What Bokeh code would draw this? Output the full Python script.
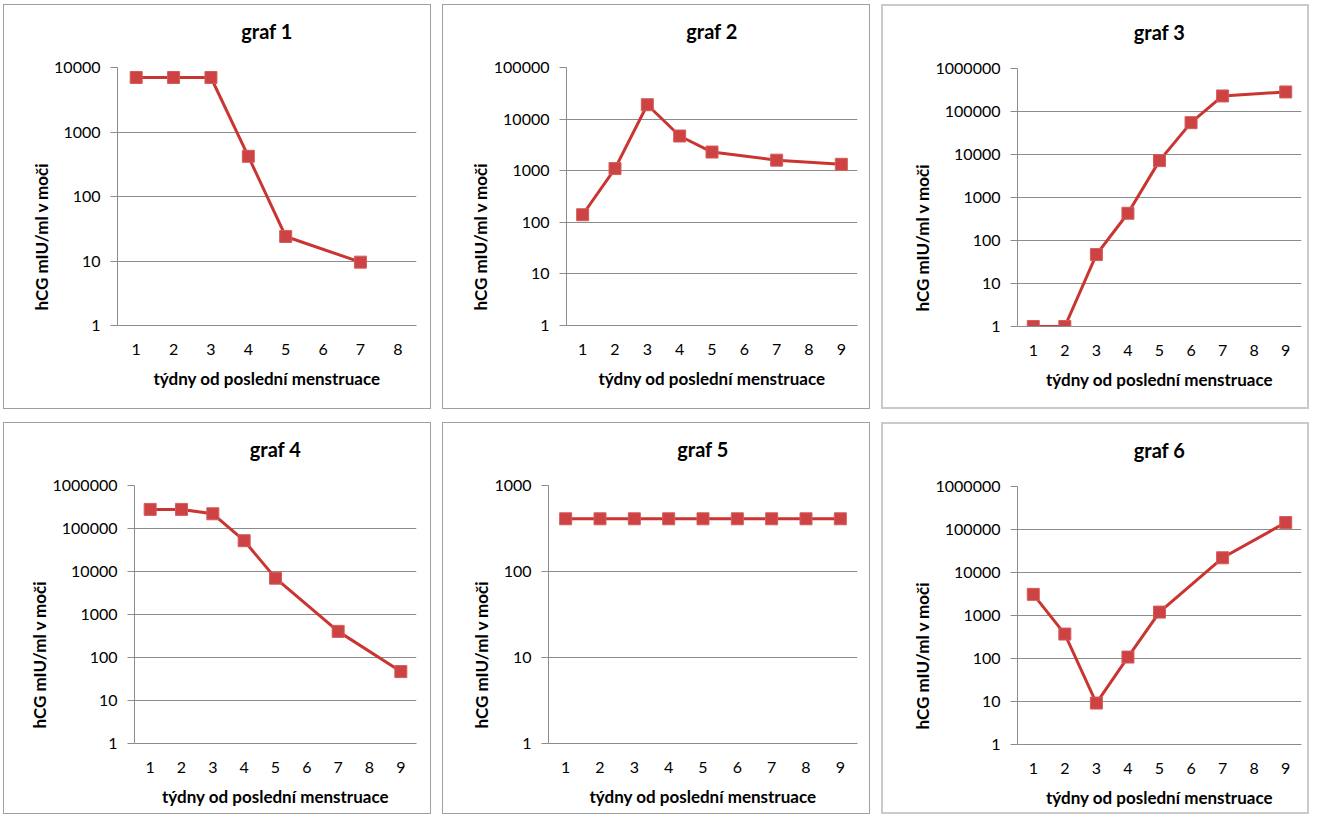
from bokeh.plotting import figure
from bokeh.layouts import column, row
from bokeh.models import FactorRange, FixedTicker, NumeralTickFormatter, Range1d, Title
from bokeh.embed import file_html
from bokeh.resources import INLINE

# ---- data ----
titles = ["graf 1", "graf 2", "graf 3", "graf 4", "graf 5", "graf 6"]
x_title = "týdny od poslední menstruace"
y_title = "hCG mIU/ml v moči"

cats_1 = ["1", "2", "3", "4", "5", "6", "7", "8"]
cats_9 = ["1", "2", "3", "4", "5", "6", "7", "8", "9"]

g1_weeks = ["1", "2", "3", "4", "5", "7"]
g1_vals = [7000, 7000, 7000, 420, 24, 9.6]

g2_weeks = ["1", "2", "3", "4", "5", "7", "9"]
g2_vals = [140, 1100, 19000, 4700, 2300, 1600, 1330]

g3_weeks = ["1", "2", "3", "4", "5", "6", "7", "9"]
g3_vals = [1, 1, 47, 430, 7200, 55000, 230000, 285000]

g4_weeks = ["1", "2", "3", "4", "5", "7", "9"]
g4_vals = [278000, 278000, 220000, 52000, 7000, 405, 47]

g5_weeks = ["1", "2", "3", "4", "5", "6", "7", "8", "9"]
g5_vals = [410, 410, 410, 410, 410, 410, 410, 410, 410]

g6_weeks = ["1", "2", "3", "4", "5", "7", "9"]
g6_vals = [3100, 370, 9.2, 108, 1200, 22000, 145000]

y_max = [1e4, 1e5, 1e6, 1e6, 1e3, 1e6]
y_ticks_all = [1, 10, 100, 1000, 10000, 100000, 1000000]

series = [
    (cats_1, g1_weeks, g1_vals),
    (cats_9, g2_weeks, g2_vals),
    (cats_9, g3_weeks, g3_vals),
    (cats_9, g4_weeks, g4_vals),
    (cats_9, g5_weeks, g5_vals),
    (cats_9, g6_weeks, g6_vals),
]

# ---- style ----
FONT = "Lato"
LINE_C = "#CA3431"
MARK_FILL = "#CD4242"
MARK_LINE = "#D65C5C"
GRID_C = "#8C8C8C"
TEXT_C = "#000000"

left_borders = [113, 123, 134, 130, 105, 134]
right_borders = [16, 14, 10, 16, 14, 10]
W = 428
H_TOP = 405
H_BOT = 392
borders = ["1.5px solid #A0A0A0", "1.5px solid #A0A0A0", "2px solid #CACACA",
           "1.5px solid #A0A0A0", "1.5px solid #A0A0A0", "2px solid #CACACA"]


def make_panel(i):
    cats, weeks, vals = series[i]
    h = H_TOP if i < 3 else H_BOT
    top = 62
    bottom = h - 258 - top
    p = figure(width=W, height=h, x_range=FactorRange(*cats),
               y_range=Range1d(1, y_max[i]), y_axis_type="log",
               output_backend="svg", toolbar_location=None,
               min_border_left=left_borders[i], min_border_right=right_borders[i],
               min_border_top=top, min_border_bottom=bottom)
    p.styles = {"border": borders[i], "box-sizing": "border-box"}
    p.outline_line_color = None
    p.background_fill_color = "white"
    p.border_fill_color = "white"

    # spacer between frame and title, then the title itself
    spacer = Title(text=" ", text_font=FONT, text_font_size="10px",
                   text_color="white", standoff=6)
    p.add_layout(spacer, "above")
    main_title = Title(text=titles[i], align="center", standoff=10,
                       text_font=FONT, text_font_size="20px",
                       text_font_style="bold", text_color=TEXT_C)
    p.add_layout(main_title, "above")

    p.line(weeks, vals, line_color=LINE_C, line_width=3)
    p.scatter(weeks, vals, marker="square", size=12, fill_color=MARK_FILL,
              line_color=MARK_LINE, line_width=1)

    # y axis
    yt = [t for t in y_ticks_all if t <= y_max[i]]
    p.yaxis.ticker = FixedTicker(ticks=yt, minor_ticks=[])
    p.yaxis.formatter = NumeralTickFormatter(format="0")
    p.yaxis.axis_line_color = GRID_C
    p.yaxis.major_tick_line_color = GRID_C
    p.yaxis.major_tick_out = 7
    p.yaxis.major_tick_in = 0
    p.yaxis.minor_tick_line_color = None
    p.yaxis.major_label_standoff = 10
    p.yaxis.major_label_text_font = FONT
    p.yaxis.major_label_text_font_size = "16px"
    p.yaxis.major_label_text_color = TEXT_C

    # y axis title as a left-side title, anchored near the frame bottom
    yt_title = Title(text=y_title, align="left", offset=15, standoff=0,
                     text_font=FONT, text_font_size="17px",
                     text_font_style="bold", text_color=TEXT_C)
    p.add_layout(yt_title, "left")

    # x axis
    p.xaxis.axis_line_color = GRID_C
    p.xaxis.major_tick_line_color = None
    p.xaxis.major_tick_out = 0
    p.xaxis.major_tick_in = 0
    p.xaxis.minor_tick_line_color = None
    p.xaxis.major_label_standoff = 18
    p.xaxis.major_label_text_font = FONT
    p.xaxis.major_label_text_font_size = "16px"
    p.xaxis.major_label_text_color = TEXT_C
    p.xaxis.axis_label = x_title
    p.xaxis.axis_label_text_font = FONT
    p.xaxis.axis_label_text_font_size = "17px"
    p.xaxis.axis_label_text_font_style = "bold"
    p.xaxis.axis_label_text_color = TEXT_C
    p.xaxis.axis_label_standoff = 10

    p.xgrid.grid_line_color = None
    p.ygrid.grid_line_color = GRID_C
    p.ygrid.grid_line_width = 1
    p.ygrid.ticker = FixedTicker(ticks=yt, minor_ticks=[])
    return p


panels = [make_panel(i) for i in range(6)]
layout = column(row(*panels[:3], spacing=11), row(*panels[3:], spacing=11),
                spacing=13, margin=(4, 0, 0, 3))

open("out.html", "w").write(file_html(layout, INLINE))
